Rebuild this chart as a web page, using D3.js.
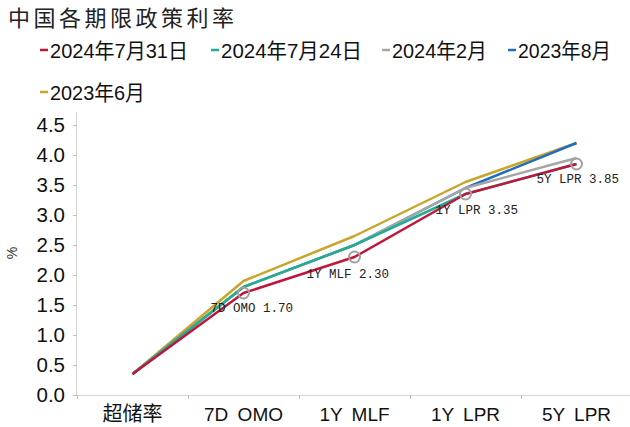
<!DOCTYPE html>
<html><head><meta charset="utf-8">
<script src="https://cdn.jsdelivr.net/npm/d3@7"></script>
<style>
html,body{margin:0;padding:0;background:#fff;}
svg{display:block;}
</style></head>
<body>
<svg id="chart" width="630" height="427"></svg>
<script>
const title = "中国各期限政策利率";
const categories = ["超储率", "7D OMO", "1Y MLF", "1Y LPR", "5Y LPR"];
const seriesNames = ["2024年7月31日", "2024年7月24日", "2024年2月", "2023年8月", "2023年6月"];
const s20240731 = [0.35, 1.70, 2.30, 3.35, 3.85];
const s20240724 = [0.35, 1.80, 2.50, 3.35, 3.85];
const s202402   = [0.35, 1.80, 2.50, 3.45, 3.95];
const s202308   = [0.35, 1.80, 2.50, 3.45, 4.20];
const s202306   = [0.35, 1.90, 2.65, 3.55, 4.20];
const yTicks = [0, 0.5, 1.0, 1.5, 2.0, 2.5, 3.0, 3.5, 4.0, 4.5];
const annotCats = ["7D OMO", "1Y MLF", "1Y LPR", "5Y LPR"];
const annotVals = [1.70, 2.30, 3.35, 3.85];
const yLabel = "%";

// styling / layout (not data)
const colors = ["#c0163b", "#22ad92", "#a6a6a6", "#1f6cc0", "#c9a52a"];
const annotOffsets = [[-33, 19], [-48, 21], [-30, 20], [-40, 19]];
const legendPos = [[40, 50, 138], [211, 50, 141], [382, 50, 95], [508, 50, 93], [40, 92, 95]];

const series = [s20240731, s20240724, s202402, s202308, s202306];
const svg = d3.select("#chart");
const margin = {left: 77, top: 112, bottom: 395, right: 632};

const x = d3.scaleBand().domain(categories).range([margin.left, margin.right]).padding(0);
const y = d3.scaleLinear().domain([0, 4.5]).range([395, 125]);
const cx = c => x(c) + x.bandwidth() / 2;

// title
svg.append("text").attr("x", 8).attr("y", 26)
  .attr("font-family", "'Noto Sans CJK SC'").attr("font-size", 22)
  .attr("letter-spacing", 3.5).attr("fill", "#222").text(title);

// legend
const legendFont = "'Liberation Sans', 'Noto Sans CJK SC'";
seriesNames.forEach((name, i) => {
  const [lx, yy, w] = legendPos[i];
  svg.append("line").attr("x1", lx).attr("x2", lx + 8).attr("y1", yy).attr("y2", yy)
    .attr("stroke", colors[i]).attr("stroke-width", 2.5);
  svg.append("text").attr("x", lx + 10).attr("y", yy + 7.5)
    .attr("font-family", legendFont).attr("font-size", 21).attr("fill", "#111")
    .attr("textLength", w).attr("lengthAdjust", "spacingAndGlyphs").text(name);
});

// y axis
const yAxis = d3.axisLeft(y).tickValues(yTicks).tickFormat(d3.format(".1f")).tickSize(4).tickPadding(8);
const gy = svg.append("g").attr("transform", `translate(${margin.left},0)`).call(yAxis);
gy.select(".domain").attr("d", `M-0.5,${margin.top}V395.5`).attr("stroke", "#d9d9d9");
gy.selectAll(".tick line").attr("stroke", "#bfbfbf");
gy.selectAll(".tick text").attr("font-family", "'Liberation Sans', Arial, sans-serif")
  .attr("font-size", 20.5).attr("fill", "#111");

// y label
svg.append("text").attr("transform", "translate(17,253) rotate(-90)")
  .attr("text-anchor", "middle").attr("font-family", "'Liberation Sans', Arial, sans-serif")
  .attr("font-size", 14).attr("fill", "#333").text(yLabel);

// x axis
const xAxis = d3.axisBottom(x).tickSize(0).tickPadding(12);
const gx = svg.append("g").attr("transform", "translate(0,395)").call(xAxis);
gx.select(".domain").attr("d", `M${margin.left},0.5H630`).attr("stroke", "#d9d9d9");
gx.selectAll(".tick text").attr("font-family", "'Liberation Sans', 'Noto Sans CJK SC', sans-serif")
  .attr("fill", "#111").attr("dy", null).attr("y", 26)
  .attr("font-size", d => /[\u4e00-\u9fff]/.test(d) ? 20 : 19)
  .attr("word-spacing", 4);
gx.selectAll(".btick").data(categories).enter().append("line").attr("class", "btick")
  .attr("x1", d => x(d) + 0.5).attr("x2", d => x(d) + 0.5).attr("y1", 0).attr("y2", 4)
  .attr("stroke", "#bfbfbf");

// lines (draw reverse so first series on top)
const line = d3.line().x((d, i) => cx(categories[i])).y(d => y(d));
const order = series.map((s, i) => i).reverse();
svg.append("g").selectAll("path").data(order).enter().append("path")
  .attr("d", i => line(series[i])).attr("fill", "none")
  .attr("stroke", i => colors[i]).attr("stroke-width", 2.5)
  .attr("stroke-linejoin", "round").attr("stroke-linecap", "butt");

// annotation markers
const ag = svg.append("g");
annotCats.forEach((c, i) => {
  const px = cx(c), py = y(annotVals[i]);
  ag.append("circle").attr("cx", px).attr("cy", py).attr("r", 5.5)
    .attr("fill", "none").attr("stroke", "#a0a0a0").attr("stroke-width", 2);
  ag.append("text").attr("x", px + annotOffsets[i][0]).attr("y", py + annotOffsets[i][1])
    .attr("font-family", "'Liberation Mono', 'DejaVu Sans Mono', monospace")
    .attr("font-size", 12.5).attr("fill", "#222")
    .text(c + " " + d3.format(".2f")(annotVals[i]));
});
</script>
</body></html>
